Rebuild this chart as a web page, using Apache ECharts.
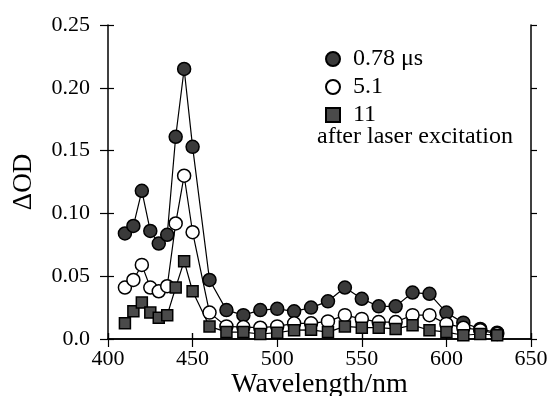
<!DOCTYPE html>
<html>
<head>
<meta charset="utf-8">
<script src="https://cdn.jsdelivr.net/npm/echarts@6/dist/echarts.min.js"></script>
<style>
  html, body { margin: 0; padding: 0; background: #fff; }
  #chart { width: 552px; height: 396px; }
</style>
</head>
<body>
<div id="chart"></div>
<script>
// wavelengths (nm) sampled in the figure
const wavelengths = [410, 415, 420, 425, 430, 435, 440, 445, 450, 460, 470, 480, 490,
    500, 510, 520, 530, 540, 550, 560, 570, 580, 590, 600, 610, 620, 630];

// ΔOD after laser excitation
const od078 = [0.084, 0.090, 0.118, 0.086, 0.076, 0.083, 0.161, 0.215, 0.153, 0.047, 0.023, 0.019, 0.023,
    0.024, 0.022, 0.025, 0.030, 0.041, 0.032, 0.026, 0.026, 0.037, 0.036, 0.021, 0.013, 0.008, 0.005];
const od51 = [0.041, 0.047, 0.059, 0.041, 0.038, 0.042, 0.092, 0.130, 0.085, 0.021, 0.010, 0.0095, 0.009,
    0.010, 0.0125, 0.0125, 0.014, 0.019, 0.016, 0.0135, 0.0135, 0.019, 0.019, 0.012, 0.009, 0.007, 0.004];
const od11 = [0.0125, 0.022, 0.029, 0.021, 0.017, 0.019, 0.041, 0.062, 0.038, 0.010, 0.0055, 0.0055, 0.004,
    0.005, 0.007, 0.0073, 0.0055, 0.010, 0.009, 0.009, 0.008, 0.011, 0.007, 0.0055, 0.003, 0.004, 0.003];

const seriesNames = ['0.78 μs', '5.1', '11'];

const pairs = vals => wavelengths.map((w, i) => [w, vals[i]]);

const chart = echarts.init(document.getElementById('chart'));
const font = 'Liberation Serif, Times New Roman, serif';
const axisLine = {lineStyle: {color: '#000', width: 1.5}};
const tick = {length: 8, lineStyle: {color: '#000', width: 1.2}};
// inner half of the crossing ticks on the left and bottom axes
const innerTick = {inside: true, length: 6, lineStyle: {color: '#000', width: 1.2}};
const box = {left: 108, right: 21, top: 25, bottom: 57, outerBoundsMode: 'none', containLabel: false};

const option = {
    backgroundColor: '#fff',
    animation: false,
    grid: [box, box],
    legend: {
        orient: 'vertical',
        left: 320,
        top: 42,
        itemWidth: 14,
        itemHeight: 14,
        itemGap: 4,
        textStyle: {fontFamily: font, fontSize: 24, color: '#000', padding: [0, 0, 0, 8]},
        data: [
            {name: seriesNames[0], icon: 'circle'},
            {name: seriesNames[1], icon: 'circle'},
            {name: seriesNames[2], icon: 'rect'}
        ]
    },
    graphic: [{
        type: 'text',
        left: 317,
        top: 125,
        style: {text: 'after laser excitation', font: '24px ' + font, fill: '#000'}
    }],
    xAxis: [{
        type: 'value',
        min: 400, max: 650, interval: 50,
        name: 'Wavelength/nm',
        nameLocation: 'middle',
        nameGap: 32,
        nameMoveOverlap: false,
        nameTextStyle: {fontFamily: font, fontSize: 28, color: '#000'},
        axisLine: axisLine,
        axisTick: tick,
        axisLabel: {fontFamily: font, fontSize: 22, color: '#000', margin: 9},
        splitLine: {show: false}
    }, {
        type: 'value', position: 'top',
        min: 400, max: 650, interval: 50,
        axisLine: axisLine,
        axisTick: {length: 6, lineStyle: {color: '#000', width: 1.2}},
        axisLabel: {show: false},
        splitLine: {show: false}
    }, {
        type: 'value', gridIndex: 1, position: 'bottom',
        min: 400, max: 650, interval: 50,
        axisLine: {show: false},
        axisTick: innerTick,
        axisLabel: {show: false},
        splitLine: {show: false}
    }],
    yAxis: [{
        type: 'value',
        min: 0, max: 0.25, interval: 0.05,
        name: 'ΔOD',
        nameLocation: 'middle',
        nameGap: 71,
        nameMoveOverlap: false,
        nameTextStyle: {fontFamily: font, fontSize: 27, color: '#000'},
        axisLine: axisLine,
        axisTick: tick,
        axisLabel: {
            fontFamily: font, fontSize: 22, color: '#000', margin: 18,
            formatter: v => v === 0 ? '0.0' : v.toFixed(2)
        },
        splitLine: {show: false}
    }, {
        type: 'value', position: 'right',
        min: 0, max: 0.25, interval: 0.05,
        axisLine: axisLine,
        axisTick: {length: 6, lineStyle: {color: '#000', width: 1.2}},
        axisLabel: {show: false},
        splitLine: {show: false}
    }, {
        type: 'value', gridIndex: 1, position: 'left',
        min: 0, max: 0.25, interval: 0.05,
        axisLine: {show: false},
        axisTick: innerTick,
        axisLabel: {show: false},
        splitLine: {show: false}
    }],
    series: [{
        name: seriesNames[0],
        type: 'line',
        data: pairs(od078),
        symbol: 'circle',
        symbolSize: 13,
        lineStyle: {color: '#000', width: 1.2},
        itemStyle: {color: '#3a3a3a', borderColor: '#000', borderWidth: 1.5, opacity: 1}
    }, {
        name: seriesNames[1],
        type: 'line',
        data: pairs(od51),
        symbol: 'circle',
        symbolSize: 13,
        lineStyle: {color: '#000', width: 1.2},
        itemStyle: {color: '#fff', borderColor: '#000', borderWidth: 1.5, opacity: 1}
    }, {
        name: seriesNames[2],
        type: 'line',
        data: pairs(od11),
        symbol: 'rect',
        symbolSize: 11,
        lineStyle: {color: '#000', width: 1.2},
        itemStyle: {color: '#4a4a4a', borderColor: '#000', borderWidth: 1.5, opacity: 1}
    }]
};

chart.setOption(option);
</script>
</body>
</html>
